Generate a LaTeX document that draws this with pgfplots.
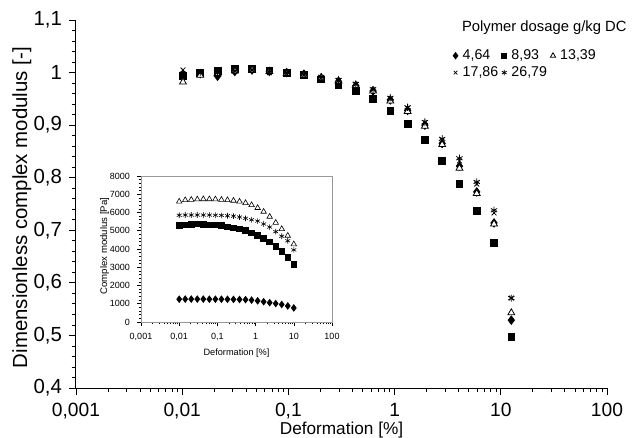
\documentclass[border=0pt]{standalone}
\usepackage{fontspec}
\setmainfont{Liberation Sans}
\usepackage{pgfplots}
\usepackage{pgfplotstable}
\pgfplotsset{compat=1.18}
\pgfplotstableread{
x d s t c a
0.01017 0.995 0.993 0.982 1.005 0.998
0.01480 0.998 1.000 0.995 1.000 1.000
0.02152 0.993 1.003 0.998 1.000 1.000
0.03130 1.002 1.007 1.003 1.003 1.003
0.04552 1.005 1.007 1.005 1.005 1.005
0.06622 1.002 1.004 1.002 1.000 1.002
0.09632 1.000 1.000 0.998 0.998 1.000
0.1401 0.997 0.996 0.995 0.995 0.997
0.2037 0.990 0.987 0.990 0.990 0.992
0.2963 0.983 0.977 0.984 0.985 0.986
0.4310 0.975 0.965 0.976 0.978 0.978
0.6268 0.965 0.950 0.965 0.968 0.968
0.9118 0.948 0.927 0.946 0.950 0.952
1.326 0.928 0.902 0.926 0.932 0.934
1.929 0.900 0.872 0.898 0.905 0.906
2.805 0.865 0.832 0.863 0.872 0.874
4.080 0.822 0.788 0.818 0.832 0.837
5.934 0.773 0.737 0.770 0.788 0.792
8.633 0.714 0.676 0.712 0.733 0.738
12.56 0.529 0.497 0.543 0.571 0.571
}\maindata
\pgfplotstableread{
x d s t a
0.01 1250 5280 6600 5850
0.01438 1255 5320 6680 5860
0.02069 1255 5340 6700 5860
0.02976 1255 5380 6720 5860
0.04281 1255 5340 6730 5860
0.06158 1250 5330 6730 5860
0.08859 1250 5320 6720 5850
0.1274 1250 5280 6700 5840
0.1833 1245 5220 6680 5820
0.2637 1240 5160 6650 5800
0.3793 1235 5100 6600 5750
0.5456 1225 5010 6520 5680
0.7848 1200 4880 6410 5600
1.129 1160 4740 6250 5530
1.624 1110 4580 6044 5370
2.336 1060 4380 5770 5200
3.360 1010 4150 5440 4950
4.833 960 3880 5096 4700
6.952 880 3550 4730 4450
10 770 3150 4260 3950
}\insetdata
\begin{document}
\begin{tikzpicture}[x=1bp,y=1bp]
\useasboundingbox (0,0) rectangle (319,219);
\begin{axis}[
  at={(38bp,25bp)}, anchor=south west, scale only axis,
  width=265.5bp, height=184bp,
  clip mode=individual,
  xmode=log, xmin=0.001, xmax=100, ymin=0.4, ymax=1.1,
  axis lines=left, axis line style={-, black, line width=0.5bp},
  tick align=outside, tick style={black, line width=0.4bp},
  major tick length=3.5bp, minor tick length=2.2bp,
  xtick={0.001,0.01,0.1,1,10,100},
  xticklabels={{0,001},{0,01},{0,1},1,10,100},
  ytick={0.4,0.5,0.6,0.7,0.8,0.9,1,1.1},
  yticklabels={{0,4},{0,5},{0,6},{0,7},{0,8},{0,9},1,{1,1}},
  minor ytick={0.42,0.44,0.46,0.48,0.52,0.54,0.56,0.58,0.62,0.64,0.66,0.68,0.72,0.74,0.76,0.78,0.82,0.84,0.86,0.88,0.92,0.94,0.96,0.98,1.02,1.04,1.06,1.08},
  x tick label style={font=\fontsize{9.6bp}{10bp}\selectfont, yshift=-0.5bp},
  y tick label style={font=\fontsize{10.2bp}{11bp}\selectfont},
  xlabel={Deformation [\%]},
  ylabel={Dimensionless complex modulus [-]},
  xlabel style={font=\fontsize{8.6bp}{9bp}\selectfont, at={(axis description cs:0.5,-0.115)}, anchor=center},
  ylabel style={font=\fontsize{10.2bp}{11bp}\selectfont, at={(axis description cs:-0.102,0.49)}, anchor=center},
  legend columns=3,
  legend style={at={(rel axis cs:0.708,0.927)}, anchor=north west, draw=none, fill=none,
    inner sep=0pt, font=\fontsize{7.1bp}{7.5bp}\selectfont, row sep=0pt,
    nodes={inner xsep=1bp, inner ysep=1bp},
    /tikz/every even column/.append style={column sep=0.4bp}},
  legend cell align=left,
  legend image code/.code={%
    \begin{scope}[every mark/.append style={scale=0.75}]
      \draw[#1] plot coordinates {(1.8bp,0bp)};
    \end{scope}
    \node[inner sep=0pt, minimum size=0pt] at (4.2bp,0bp) {};
    \node[inner sep=0pt, minimum size=0pt] at (0bp,0bp) {};},
]
\addplot[only marks, mark=diamond*, mark size=2.1bp, black] table[x=x,y=d]{\maindata};
\addlegendentry{4,64}
\addplot[only marks, mark=square*, mark size=1.7bp, black] table[x=x,y=s]{\maindata};
\addlegendentry{8,93}
\addplot[only marks, mark=triangle*, mark size=2bp, black, mark options={fill=white, line width=0.4bp}] table[x=x,y=t]{\maindata};
\addlegendentry{13,39}
\addplot[only marks, mark=x, mark size=1.7bp, black, mark options={line width=0.4bp}] table[x=x,y=c]{\maindata};
\addlegendentry{17,86}
\addplot[only marks, mark=asterisk, mark size=1.8bp, black, mark options={line width=0.4bp}] table[x=x,y=a]{\maindata};
\addlegendentry{26,79}
\node[font=\fontsize{7.4bp}{8bp}\selectfont, anchor=center] at (rel axis cs:0.882,0.978) {Polymer dosage g/kg DC};
\end{axis}
\begin{axis}[
  at={(70.5bp,58bp)}, anchor=south west, scale only axis,
  width=95.5bp, height=73bp,
  xmode=log, xmin=0.001, xmax=100, ymin=0, ymax=8000,
  axis background/.style={fill=white},
  axis line style={gray!80, line width=0.4bp},
  tick align=outside, tick style={black, line width=0.3bp},
  major tick length=2bp, minor tick length=1.2bp,
  xtick pos=left, ytick pos=left,
  xtick={0.001,0.01,0.1,1,10,100},
  xticklabels={{0,001},{0,01},{0,1},1,10,100},
  ytick={0,1000,2000,3000,4000,5000,6000,7000,8000},
  yticklabels={0,1000,2000,3000,4000,5000,6000,7000,8000},
  minor y tick num=4,
  tick label style={font=\fontsize{4.5bp}{5bp}\selectfont},
  xlabel={Deformation [\%]},
  ylabel={Complex modulus [Pa]},
  xlabel style={font=\fontsize{4.6bp}{5bp}\selectfont, at={(axis description cs:0.5,-0.21)}, anchor=center},
  ylabel style={font=\fontsize{4.8bp}{5bp}\selectfont, at={(axis description cs:-0.19,0.52)}, anchor=center},
]
\addplot[only marks, mark=diamond*, mark size=1.6bp, black] table[x=x,y=d]{\insetdata};
\addplot[only marks, mark=square*, mark size=1.4bp, black] table[x=x,y=s]{\insetdata};
\addplot[only marks, mark=triangle*, mark size=1.6bp, black, mark options={fill=white, line width=0.3bp}] table[x=x,y=t]{\insetdata};
\addplot[only marks, mark=asterisk, mark size=1.4bp, black, mark options={line width=0.3bp}] table[x=x,y=a]{\insetdata};
\end{axis}
\end{tikzpicture}
\end{document}
